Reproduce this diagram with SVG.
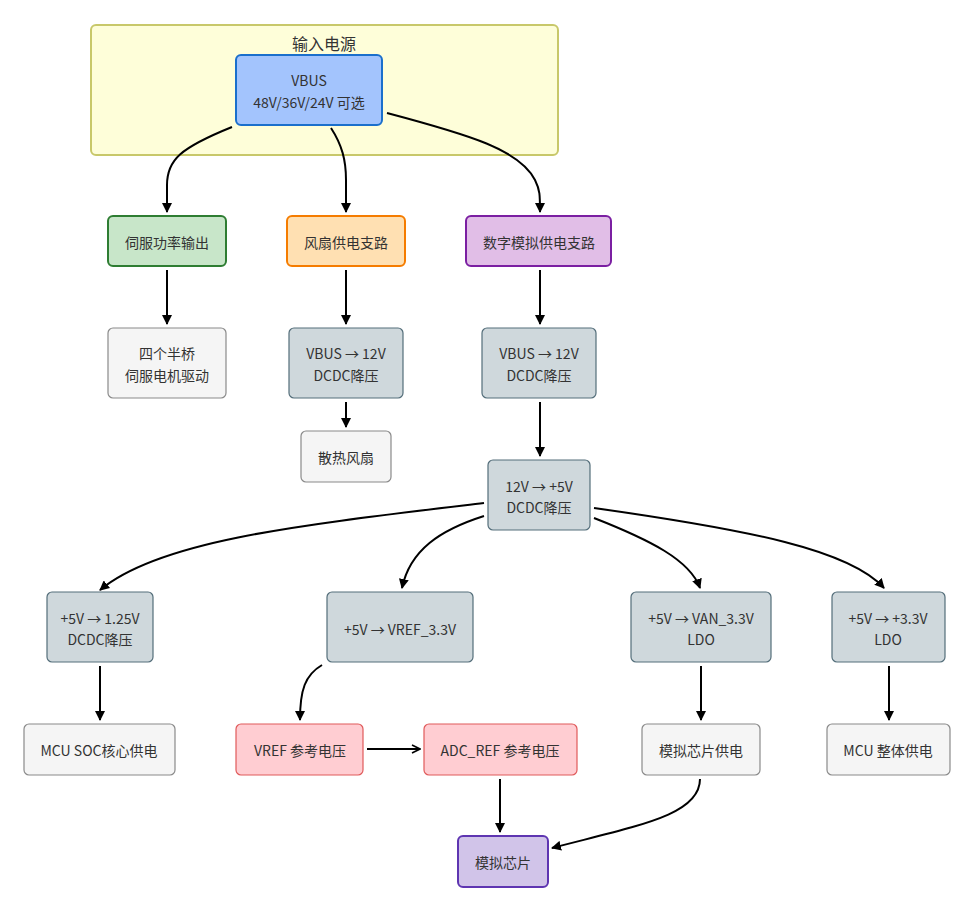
<svg xmlns="http://www.w3.org/2000/svg" width="975" height="911" viewBox="0 0 975 911">
<defs>
<marker id="ah" viewBox="0 0 10 10" refX="9" refY="5" markerWidth="10" markerHeight="10" markerUnits="userSpaceOnUse" orient="auto">
<path d="M0,0 L10,5 L0,10 Z" fill="#000"/>
</marker>
<marker id="av" viewBox="0 0 10 10" refX="9" refY="5" markerWidth="10" markerHeight="12" markerUnits="userSpaceOnUse" orient="auto">
<path d="M1,1 L9,5 L1,9" fill="none" stroke="#000" stroke-width="1.6"/>
</marker>
<style>
text{font-family:"Noto Sans CJK SC","Noto Sans",sans-serif;font-size:14px;fill:#333;text-anchor:middle;dominant-baseline:central}
text.t{font-size:16px}
.e{fill:none;stroke:#000;stroke-width:2;marker-end:url(#ah)}
.g{fill:#f5f5f5;stroke:#8a8a8a;stroke-width:1.2}
.s{fill:#cfd8dc;stroke:#546e7a;stroke-width:1.2}
.r{fill:#ffcdd2;stroke:#e05a5a;stroke-width:1.2}
</style>
</defs>
<g id="cluster-input">
<rect x="91" y="25" width="467" height="130" rx="5" fill="#fefed9" stroke="#c8c86a" stroke-width="2"/>
<text class="t" x="324" y="43">输入电源</text>
</g>
<g id="connectors">
<path class="e" d="M232,127 C180,148 167,160 167,185 L167,212"/>
<path class="e" d="M331,128 C342,145 346,160 346,180 L346,212"/>
<path class="e" d="M387,113 C470,135 520,150 535,180 C540,190 540,195 540,212"/>
<path class="e" d="M167,270 L167,324"/>
<path class="e" d="M346,270 L346,324"/>
<path class="e" d="M540,270 L540,324"/>
<path class="e" d="M346,402 L346,427"/>
<path class="e" d="M540,402 L540,456"/>
<path class="e" d="M484,503 C300,525 160,540 100,590"/>
<path class="e" d="M484,516 C440,530 410,550 402,588"/>
<path class="e" d="M594,518 C650,540 690,560 700,588"/>
<path class="e" d="M594,508 C750,530 850,550 884,588"/>
<path class="e" d="M100,666 L100,720"/>
<path class="e" d="M322,665 C305,675 300,690 300,720"/>
<path d="M367,749 L420,749" fill="none" stroke="#000" stroke-width="2" marker-end="url(#av)"/>
<path class="e" d="M500,779 L500,832"/>
<path class="e" d="M701,666 L701,720"/>
<path class="e" d="M889,666 L889,720"/>
<path class="e" d="M700,779 C700,815 640,825 552,848"/>
</g>
<g id="vbus">
<rect x="236" y="55" width="146" height="70" rx="5" fill="#a3c4fd" stroke="#1a6fcc" stroke-width="2"/>
<text x="309" y="80">VBUS</text>
<text x="309" y="102">48V/36V/24V 可选</text>
</g>
<g id="servo">
<rect x="108" y="216" width="118" height="50" rx="5" fill="#c8e6c9" stroke="#2e7d32" stroke-width="2"/>
<text x="167" y="242">伺服功率输出</text>
</g>
<g id="fan-branch">
<rect x="287" y="216" width="118" height="50" rx="5" fill="#ffe0b2" stroke="#f57c00" stroke-width="2"/>
<text x="346" y="242">风扇供电支路</text>
</g>
<g id="digital-branch">
<rect x="466" y="216" width="145" height="50" rx="5" fill="#e1bee7" stroke="#7b1fa2" stroke-width="2"/>
<text x="539" y="242">数字模拟供电支路</text>
</g>
<g id="half-bridge">
<rect class="g" x="108" y="328" width="118" height="70" rx="5"/>
<text x="167" y="353">四个半桥</text>
<text x="167" y="375">伺服电机驱动</text>
</g>
<g id="fan-dcdc">
<rect class="s" x="289" y="328" width="114" height="70" rx="5"/>
<text x="346" y="353">VBUS → 12V</text>
<text x="346" y="375">DCDC降压</text>
</g>
<g id="dig-dcdc">
<rect class="s" x="482" y="328" width="114" height="70" rx="5"/>
<text x="539" y="353">VBUS → 12V</text>
<text x="539" y="375">DCDC降压</text>
</g>
<g id="fan">
<rect class="g" x="301" y="431" width="90" height="51" rx="5"/>
<text x="346" y="457">散热风扇</text>
</g>
<g id="dcdc5v">
<rect class="s" x="488" y="460" width="102" height="70" rx="5"/>
<text x="539" y="486">12V → +5V</text>
<text x="539" y="507">DCDC降压</text>
</g>
<g id="dcdc125">
<rect class="s" x="47" y="592" width="106" height="70" rx="5"/>
<text x="100" y="618">+5V → 1.25V</text>
<text x="100" y="639">DCDC降压</text>
</g>
<g id="vref33">
<rect class="s" x="327" y="592" width="146" height="70" rx="5"/>
<text x="400" y="629">+5V → VREF_3.3V</text>
</g>
<g id="van33">
<rect class="s" x="631" y="592" width="140" height="70" rx="5"/>
<text x="701" y="618">+5V → VAN_3.3V</text>
<text x="701" y="639">LDO</text>
</g>
<g id="ldo33">
<rect class="s" x="832" y="592" width="113" height="70" rx="5"/>
<text x="888" y="618">+5V → +3.3V</text>
<text x="888" y="639">LDO</text>
</g>
<g id="mcu-soc">
<rect class="g" x="24" y="724" width="151" height="51" rx="5"/>
<text x="99" y="750">MCU SOC核心供电</text>
</g>
<g id="vref">
<rect class="r" x="236" y="724" width="127" height="51" rx="5"/>
<text x="300" y="750">VREF 参考电压</text>
</g>
<g id="adcref">
<rect class="r" x="424" y="724" width="153" height="51" rx="5"/>
<text x="500" y="750">ADC_REF 参考电压</text>
</g>
<g id="analog-supply">
<rect class="g" x="642" y="724" width="118" height="51" rx="5"/>
<text x="701" y="750">模拟芯片供电</text>
</g>
<g id="mcu-all">
<rect class="g" x="827" y="724" width="123" height="51" rx="5"/>
<text x="888" y="750">MCU 整体供电</text>
</g>
<g id="analog-chip">
<rect x="458" y="836" width="90" height="51" rx="5" fill="#d1c4e9" stroke="#5e35b1" stroke-width="2"/>
<text x="503" y="862">模拟芯片</text>
</g>
</svg>
